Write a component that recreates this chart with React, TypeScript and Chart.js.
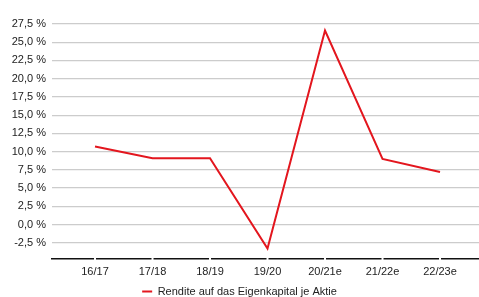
import React, { useEffect, useRef } from "react";
import { Chart, registerables } from "chart.js";

Chart.register(...registerables);

const categories = ["16/17", "17/18", "18/19", "19/20", "20/21e", "21/22e", "22/23e"];
const roeValues = [10.7, 9.1, 9.1, -3.3, 26.6, 9.0, 7.2];
const seriesLabel = "Rendite auf das Eigenkapital je Aktie";
const yTicks = [-2.5, 0, 2.5, 5, 7.5, 10, 12.5, 15, 17.5, 20, 22.5, 25, 27.5];

const RED = "#e3161e";
const FONT = "'Liberation Sans', Arial, sans-serif";

export default function App() {
  const ref = useRef<HTMLCanvasElement | null>(null);

  useEffect(() => {
    if (!ref.current) return;
    const axisGaps = {
      id: "axisGaps",
      afterDraw(chart: any) {
        const xs = chart.scales.x;
        const ctx = chart.ctx;
        const y = chart.chartArea.bottom;
        ctx.save();
        ctx.fillStyle = "#ffffff";
        categories.forEach((_, i) => {
          const px = xs.getPixelForValue(i);
          ctx.fillRect(px - 1, y - 2, 2, 4);
        });
        ctx.restore();
      },
    };
    const chart = new Chart(ref.current, {
      type: "line",
      data: {
        datasets: [
          {
            label: seriesLabel,
            data: roeValues.map((v, i) => ({ x: i, y: v })),
            borderColor: RED,
            backgroundColor: RED,
            borderWidth: 2,
            pointRadius: 0,
            tension: 0,
          },
        ],
      },
      options: {
        animation: false,
        responsive: false,
        maintainAspectRatio: false,
        layout: { padding: { top: 24, right: 0, left: 0, bottom: -10 } },
        plugins: {
          tooltip: { enabled: false },
          legend: {
            position: "bottom",
            labels: {
              font: { family: FONT, size: 11 },
              color: "#222",
              boxWidth: 10,
              boxHeight: 2,
              padding: 0,
              generateLabels: (c: any) =>
                Chart.defaults.plugins.legend.labels
                  .generateLabels(c)
                  .map((l: any) => ({ ...l, lineWidth: 0, fillStyle: RED })),
            },
          },
        },
        scales: {
          x: {
            type: "linear",
            min: -0.748,
            max: 6.678,
            afterBuildTicks: (s: any) => {
              s.ticks = categories.map((_, i) => ({ value: i }));
            },
            grid: { display: false, drawTicks: false },
            border: { display: true, color: "#111", width: 1.5 },
            ticks: {
              autoSkip: false,
              maxRotation: 0,
              padding: 7,
              font: { family: FONT, size: 11 },
              color: "#222",
              callback: (v: any) => categories[v as number] ?? "",
            },
          },
          y: {
            min: -4.7,
            max: 27.5,
            afterBuildTicks: (s: any) => {
              s.ticks = yTicks.map((v) => ({ value: v }));
            },
            afterFit: (s: any) => {
              s.width = 52;
            },
            grid: { color: "#cccccc", lineWidth: 1.2, drawTicks: false },
            border: { display: false },
            ticks: {
              padding: 6,
              font: { family: FONT, size: 11 },
              color: "#222",
              callback: (v: any) => Number(v).toFixed(1).replace(".", ",") + " %",
            },
          },
        },
      },
      plugins: [axisGaps],
    } as any);
    return () => chart.destroy();
  }, []);

  return (
    <div style={{ position: "absolute", left: 0, top: 0, width: 479, height: 297, background: "#fff" }}>
      <canvas ref={ref} width={479} height={297} style={{ width: 479, height: 297, display: "block" }} />
    </div>
  );
}
